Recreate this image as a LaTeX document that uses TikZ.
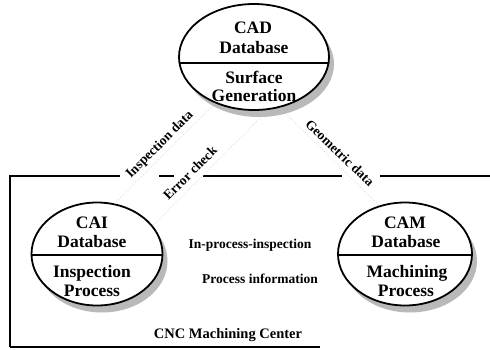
\documentclass[tikz,border=0pt]{standalone}
\usepackage{fontspec}
\setmainfont{Liberation Serif}
\usetikzlibrary{shapes.geometric,shadows}
\begin{document}
\begin{tikzpicture}[x=1pt,y=-1pt,
  db/.style={ellipse, draw, line width=1.8pt, fill=white, inner sep=0pt,
    drop shadow={shadow xshift=5pt, shadow yshift=-7pt, fill=gray!55, opacity=1}},
  big/.style={font=\fontsize{17.5}{18}\selectfont\bfseries, anchor=base, inner sep=0pt},
  lbl/.style={font=\fontsize{13.5}{14}\selectfont\bfseries, inner sep=0pt},
  flow/.style={draw=gray!40, dotted, line width=0.7pt},
  frame/.style={line width=2.2pt}]
\useasboundingbox (0,0) rectangle (490,349);

% frame of the CNC machining center
\draw[frame] (10,347) -- (10,176) -- (120,176);
\draw[frame] (159,176) -- (174,176);
\draw[frame] (203,176) -- (342,176);
\draw[frame] (380,176) -- (490,176);
\draw[line width=1.2pt] (10,347) -- (320,347);

% databases
\node[db, minimum width=150pt, minimum height=106pt,
  path picture={\draw[line width=1.2pt] ([yshift=-6pt]path picture bounding box.west) -- ([yshift=-6pt]path picture bounding box.east);}]
  (cad) at (254,57) {};
\node[db, minimum width=131pt, minimum height=103pt,
  path picture={\draw[line width=1.2pt] ([yshift=-1pt]path picture bounding box.west) -- ([yshift=-1pt]path picture bounding box.east);}]
  (cai) at (97,254) {};
\node[db, minimum width=134pt, minimum height=103pt,
  path picture={\draw[line width=1.2pt] ([yshift=-1pt]path picture bounding box.west) -- ([yshift=-1pt]path picture bounding box.east);}]
  (cam) at (405,254) {};

% texts in databases
\node[big] (cadA) at (253,33) {CAD};
\node[big] (cadB) at (254,53) {Database};
\node[big] (cadC) at (254,83) {Surface};
\node[big] (cadD) at (254,101) {Generation};

\node[big] (caiA) at (92,228) {CAI};
\node[big] (caiB) at (92,247) {Database};
\node[big] (caiC) at (92,277) {Inspection};
\node[big] (caiD) at (92,296) {Process};

\node[big] (camA) at (405,228) {CAM};
\node[big] (camB) at (406,247) {Database};
\node[big] (camC) at (407,277) {Machining};
\node[big] (camD) at (406,296) {Process};

% faint connectors
\draw[flow] (cai.71) -- (cad.230);
\draw[flow] (cad.285) -- (cai.27);
\draw[flow] (cad.297) -- (cam.118);

% connector labels
\node[lbl, rotate=45] (l1) at (160,145) {Inspection data};
\node[lbl, rotate=45] (l2) at (190,173) {Error check};
\node[lbl, rotate=-44] (l3) at (340,153) {Geometric data};
\node[lbl, anchor=base] (l4) at (250,248) {In-process-inspection};
\node[lbl, anchor=base] (l5) at (260,283) {Process information};
\node[font=\fontsize{14.5}{15}\selectfont\bfseries, anchor=base, inner sep=0pt] (cnc) at (228,338) {CNC Machining Center};
\end{tikzpicture}
\end{document}
